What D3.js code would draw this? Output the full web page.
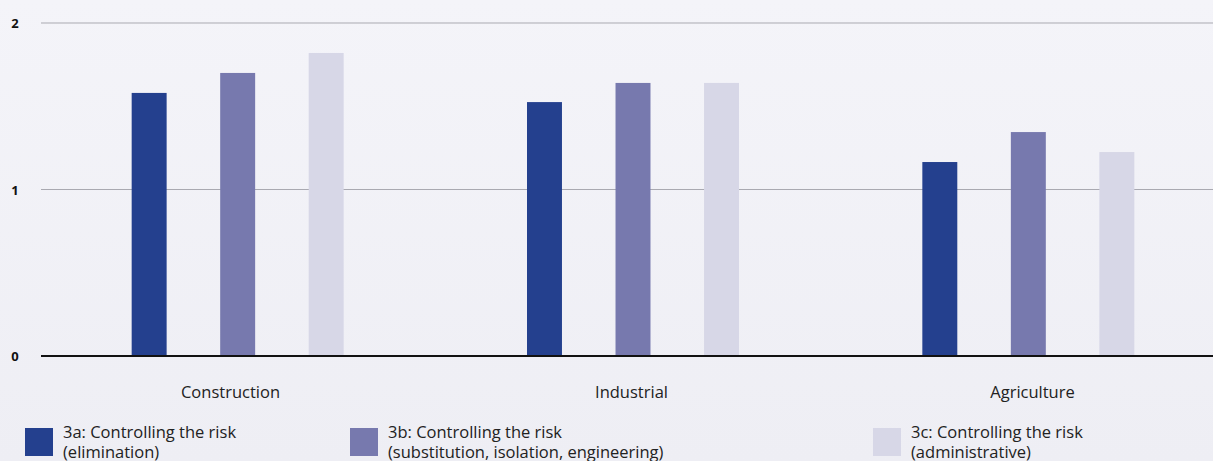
<!DOCTYPE html>
<html>
<head>
<meta charset="utf-8">
<script src="https://cdn.jsdelivr.net/npm/d3@7"></script>
<style>
  body { margin: 0; background: #f1f1f7; }
  svg { display: block; font-family: "Open Sans", "Noto Sans", sans-serif; }
</style>
</head>
<body>
<div id="chart"></div>
<script>
const categories = ["Construction", "Industrial", "Agriculture"];
const seriesNames = [
  ["3a: Controlling the risk", "(elimination)"],
  ["3b: Controlling the risk", "(substitution, isolation, engineering)"],
  ["3c: Controlling the risk", "(administrative)"]
];
const seriesA = [1.58, 1.525, 1.165];
const seriesB = [1.70, 1.64, 1.345];
const seriesC = [1.82, 1.64, 1.225];
const yTicks = [0, 1, 2];
const colors = ["#24408e", "#7779ae", "#d7d7e7"];

const width = 1213, height = 461;
const svg = d3.select("#chart").append("svg")
  .attr("width", width).attr("height", height);

// subtle background gradient
const grad = svg.append("defs").append("linearGradient")
  .attr("id", "bg").attr("x1", 0).attr("x2", 0).attr("y1", 0).attr("y2", 1);
grad.append("stop").attr("offset", "0%").attr("stop-color", "#f4f4f9");
grad.append("stop").attr("offset", "100%").attr("stop-color", "#eeeef4");
svg.append("rect").attr("width", width).attr("height", height).attr("fill", "url(#bg)");

const y = d3.scaleLinear().domain([0, 2]).range([356, 23]);
const x0 = d3.scaleBand().domain(categories).range([40, 1226]);
const x1 = d3.scaleBand().domain([0, 1, 2]).range([-106, 106])
  .paddingInner(0.605).paddingOuter(0);
const xLabel = d3.scaleBand().domain(categories).range([30, 1233]);

// grid
svg.append("g")
  .selectAll("line")
  .data(yTicks.filter(d => d > 0))
  .join("line")
  .attr("x1", 41).attr("x2", width)
  .attr("y1", d => y(d)).attr("y2", d => y(d))
  .attr("stroke", "#a9a9b1").attr("stroke-width", 1);

svg.append("g")
  .selectAll("text")
  .data(yTicks)
  .join("text")
  .attr("x", 15).attr("y", d => y(d) + 5)
  .attr("text-anchor", "middle")
  .attr("font-size", 13).attr("font-weight", "bold")
  .attr("fill", "#111")
  .text(d => d);

// bars
const series = [seriesA, seriesB, seriesC];
const groups = svg.append("g").selectAll("g")
  .data(categories)
  .join("g")
  .attr("transform", d => `translate(${x0(d) + x0.bandwidth() / 2},0)`);

groups.selectAll("rect")
  .data((d, i) => series.map((s, k) => ({ k, v: s[i] })))
  .join("rect")
  .attr("x", d => x1(d.k))
  .attr("y", d => y(d.v))
  .attr("width", x1.bandwidth())
  .attr("height", d => y(0) - y(d.v))
  .attr("fill", d => colors[d.k]);

// category labels
svg.append("g").selectAll("text")
  .data(categories)
  .join("text")
  .attr("x", d => xLabel(d) + xLabel.bandwidth() / 2)
  .attr("y", 398)
  .attr("text-anchor", "middle")
  .attr("font-size", 16.5).attr("fill", "#222")
  .text(d => d);

// zero line
svg.append("line")
  .attr("x1", 41).attr("x2", width)
  .attr("y1", y(0)).attr("y2", y(0))
  .attr("stroke", "#111").attr("stroke-width", 2);

// legend
const legendX = [25, 350, 873];
const legend = svg.append("g").selectAll("g")
  .data(seriesNames)
  .join("g")
  .attr("transform", (d, i) => `translate(${legendX[i]},428)`);

legend.append("rect")
  .attr("width", 28).attr("height", 28)
  .attr("fill", (d, i) => colors[i]);

legend.append("text")
  .attr("x", 38).attr("y", 10)
  .attr("font-size", 16.5).attr("fill", "#222")
  .selectAll("tspan")
  .data(d => d)
  .join("tspan")
  .attr("x", 38)
  .attr("dy", (d, i) => i === 0 ? 0 : 20)
  .text(d => d);
</script>
</body>
</html>
